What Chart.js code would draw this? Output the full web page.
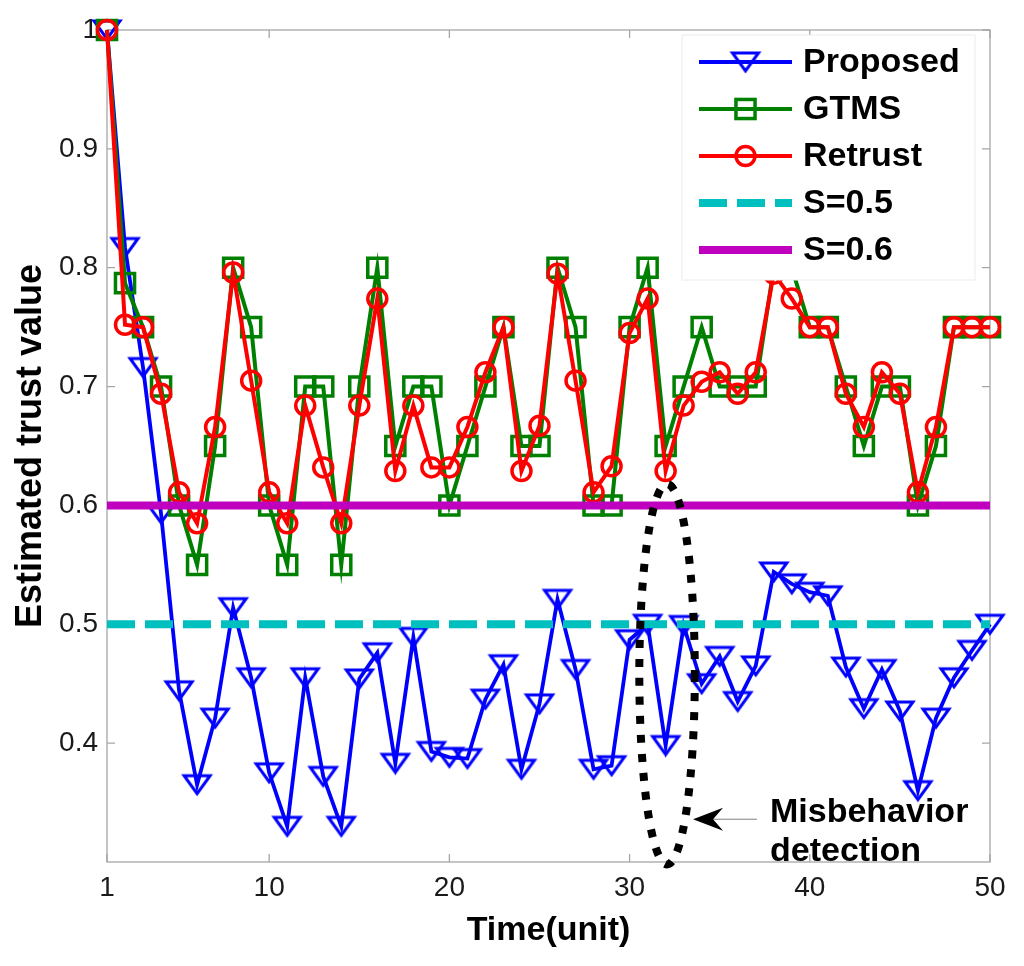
<!DOCTYPE html>
<html>
<head>
<meta charset="utf-8">
<title>Estimated trust value</title>
<script src="https://cdn.jsdelivr.net/npm/chart.js@4.4.1/dist/chart.umd.min.js"></script>
<style>
    html, body { margin: 0; padding: 0; background: #fff; }
    #wrap { width: 1024px; height: 966px; position: relative; }
</style>
</head>
<body>
<div id="wrap"><canvas id="trust-chart"></canvas></div>
<script>
// values
const timeUnits = [1, 2, 3, 4, 5, 6, 7, 8, 9, 10, 11, 12, 13, 14, 15, 16, 17, 18, 19, 20,
    21, 22, 23, 24, 25, 26, 27, 28, 29, 30, 31, 32, 33, 34, 35, 36, 37, 38, 39, 40,
    41, 42, 43, 44, 45, 46, 47, 48, 49, 50];

const proposed = [1.0, 0.817, 0.716, 0.593, 0.444, 0.365, 0.421, 0.514, 0.455, 0.375,
    0.33, 0.455, 0.372, 0.33, 0.454, 0.476, 0.383, 0.489, 0.393, 0.388,
    0.387, 0.437, 0.466, 0.378, 0.433, 0.521, 0.462, 0.378, 0.381, 0.487,
    0.5, 0.398, 0.499, 0.45, 0.473, 0.435, 0.465, 0.544, 0.534, 0.527,
    0.524, 0.464, 0.429, 0.462, 0.427, 0.36, 0.421, 0.455, 0.478, 0.5];

const gtms = [1.0, 0.787, 0.75, 0.7, 0.6, 0.55, 0.65, 0.8, 0.75, 0.6,
    0.55, 0.7, 0.7, 0.55, 0.7, 0.8, 0.65, 0.7, 0.7, 0.6,
    0.65, 0.7, 0.75, 0.65, 0.65, 0.8, 0.75, 0.6, 0.6, 0.75,
    0.8, 0.65, 0.7, 0.75, 0.7, 0.7, 0.7, 0.8, 0.8, 0.75,
    0.75, 0.7, 0.65, 0.7, 0.7, 0.6, 0.65, 0.75, 0.75, 0.75];

const retrust = [1.0, 0.752, 0.75, 0.694, 0.611, 0.585, 0.666, 0.796, 0.705, 0.611,
    0.585, 0.684, 0.632, 0.585, 0.684, 0.774, 0.629, 0.684, 0.632, 0.632,
    0.666, 0.712, 0.75, 0.629, 0.667, 0.795, 0.705, 0.611, 0.633, 0.745,
    0.774, 0.629, 0.684, 0.704, 0.712, 0.694, 0.712, 0.795, 0.774, 0.75,
    0.75, 0.694, 0.666, 0.712, 0.694, 0.611, 0.666, 0.75, 0.75, 0.75];

const thresholds = [0.5, 0.6];
const seriesLabels = ["Proposed", "GTMS", "Retrust", "S=0.5", "S=0.6"];
const xTickValues = [1, 10, 20, 30, 40, 50];
const yTickValues = [0.4, 0.5, 0.6, 0.7, 0.8, 0.9, 1];

const FONT = "'Liberation Sans', Arial, Helvetica, sans-serif";

function toPoints(values) {
    return values.map((v, i) => ({ x: timeUnits[i], y: v }));
}

function flatLine(level) {
    return [
        { x: timeUnits[0], y: level },
        { x: timeUnits[timeUnits.length - 1], y: level }
    ];
}

// MATLAB-like "v" marker, a bit wider than an equilateral triangle
function makeTriangleMarker(color) {
    const c = document.createElement("canvas");
    c.width = 36;
    c.height = 32;
    const g = c.getContext("2d");
    g.strokeStyle = color;
    g.lineWidth = 3;
    g.beginPath();
    g.moveTo(5, 7);
    g.lineTo(31, 7);
    g.lineTo(18, 25);
    g.closePath();
    g.stroke();
    return c;
}

const triangleMarker = makeTriangleMarker("#0000ff");

// box around the plot with inward ticks on all sides
const framePlugin = {
    id: "frame",
    beforeDatasetsDraw(chart) {
        const { ctx, chartArea: a, scales } = chart;
        ctx.save();
        ctx.strokeStyle = "#a6a6a6";
        ctx.lineWidth = 1.3;
        ctx.strokeRect(a.left, a.top, a.right - a.left, a.bottom - a.top);
        ctx.beginPath();
        xTickValues.forEach(v => {
            const px = scales.x.getPixelForValue(v);
            ctx.moveTo(px, a.bottom);
            ctx.lineTo(px, a.bottom - 8);
            ctx.moveTo(px, a.top);
            ctx.lineTo(px, a.top + 8);
        });
        yTickValues.forEach(v => {
            const py = scales.y.getPixelForValue(v);
            ctx.moveTo(a.left, py);
            ctx.lineTo(a.left + 8, py);
            ctx.moveTo(a.right, py);
            ctx.lineTo(a.right - 8, py);
        });
        ctx.stroke();
        ctx.restore();
    }
};

// legend box in the upper right corner of the axes
const legendPlugin = {
    id: "boxLegend",
    afterDraw(chart) {
        const ctx = chart.ctx;
        const a = chart.chartArea;
        const box = { left: a.right - 308, top: a.top + 5, width: 293, height: 245 };
        ctx.save();
        ctx.fillStyle = "#ffffff";
        ctx.strokeStyle = "#ececec";
        ctx.lineWidth = 1;
        ctx.fillRect(box.left, box.top, box.width, box.height);
        ctx.strokeRect(box.left, box.top, box.width, box.height);

        chart.data.datasets.forEach((ds, i) => {
            const y = box.top + 27 + i * 47;
            const x0 = box.left + 17;
            const x1 = box.left + 110;
            const xm = (x0 + x1) / 2;
            ctx.strokeStyle = ds.borderColor;
            ctx.lineWidth = ds.borderWidth;
            ctx.setLineDash(ds.borderDash || []);
            ctx.beginPath();
            ctx.moveTo(x0, y);
            ctx.lineTo(x1, y);
            ctx.stroke();
            ctx.setLineDash([]);
            ctx.lineWidth = ds.pointBorderWidth || 3;
            if (ds.pointStyle === "rect") {
                const s = ds.pointRadius * Math.SQRT1_2;
                ctx.strokeRect(xm - s, y - s, 2 * s, 2 * s);
            } else if (ds.pointStyle === "circle") {
                ctx.beginPath();
                ctx.arc(xm, y, ds.pointRadius, 0, Math.PI * 2);
                ctx.stroke();
            } else if (ds.pointStyle instanceof HTMLCanvasElement) {
                const img = ds.pointStyle;
                ctx.drawImage(img, xm - img.width / 2, y - img.height / 2);
            }
            ctx.fillStyle = "#000000";
            ctx.font = "bold 34px " + FONT;
            ctx.textBaseline = "middle";
            ctx.textAlign = "left";
            ctx.fillText(ds.label, box.left + 121, y + 1);
        });
        ctx.restore();
    }
};

// dotted ellipse, arrow and note
const notePlugin = {
    id: "misbehaviorNote",
    afterDraw(chart) {
        const { ctx, scales } = chart;
        const sx = scales.x, sy = scales.y;
        const cx = sx.getPixelForValue(32.08);
        const cy = sy.getPixelForValue(0.458);
        const rx = sx.getPixelForValue(32.08 + 1.54) - cx;
        const ry = cy - sy.getPixelForValue(0.458 + 0.16);
        ctx.save();
        ctx.strokeStyle = "#000000";
        ctx.lineWidth = 8;
        ctx.setLineDash([8, 11]);
        ctx.beginPath();
        ctx.ellipse(cx, cy, rx, ry, 0, 0, Math.PI * 2);
        ctx.stroke();
        ctx.setLineDash([]);

        const tipX = sx.getPixelForValue(33.52);
        const tailX = sx.getPixelForValue(37.07);
        const ay = sy.getPixelForValue(0.336);
        ctx.strokeStyle = "#808080";
        ctx.lineWidth = 1;
        ctx.beginPath();
        ctx.moveTo(tipX + 20, ay);
        ctx.lineTo(tailX, ay);
        ctx.stroke();
        ctx.fillStyle = "#000000";
        ctx.beginPath();
        ctx.moveTo(tipX, ay);
        ctx.lineTo(tipX + 30, ay - 11.5);
        ctx.lineTo(tipX + 20, ay);
        ctx.lineTo(tipX + 30, ay + 11.5);
        ctx.closePath();
        ctx.fill();

        const tx = sx.getPixelForValue(37.79);
        ctx.font = "bold 34px " + FONT;
        ctx.textAlign = "left";
        ctx.textBaseline = "alphabetic";
        ctx.fillText("Misbehavior", tx, sy.getPixelForValue(0.334));
        ctx.fillText("detection", tx, sy.getPixelForValue(0.3006));
        ctx.restore();
    }
};

Chart.defaults.font.family = FONT;

const ctx = document.getElementById("trust-chart").getContext("2d");
new Chart(ctx, {
    type: "line",
    data: {
        datasets: [
            {
                label: seriesLabels[0],
                data: toPoints(proposed),
                borderColor: "#0000ff",
                borderWidth: 3.8,
                pointStyle: triangleMarker,
                pointRadius: 13,
                pointBorderColor: "#0000ff",
                pointBackgroundColor: "rgba(0,0,0,0)",
                pointBorderWidth: 3,
                clip: false,
                order: 5
            },
            {
                label: seriesLabels[1],
                data: toPoints(gtms),
                borderColor: "#008000",
                borderWidth: 4,
                pointStyle: "rect",
                pointRadius: 13.5,
                pointBorderColor: "#008000",
                pointBackgroundColor: "rgba(0,0,0,0)",
                pointBorderWidth: 3.5,
                clip: false,
                order: 4
            },
            {
                label: seriesLabels[2],
                data: toPoints(retrust),
                borderColor: "#ff0000",
                borderWidth: 4,
                pointStyle: "circle",
                pointRadius: 9.5,
                pointBorderColor: "#ff0000",
                pointBackgroundColor: "rgba(0,0,0,0)",
                pointBorderWidth: 3.5,
                clip: false,
                order: 3
            },
            {
                label: seriesLabels[3],
                data: flatLine(thresholds[0]),
                borderColor: "#00bfbf",
                borderWidth: 8,
                borderDash: [28, 10],
                borderCapStyle: "butt",
                pointRadius: 0,
                order: 2
            },
            {
                label: seriesLabels[4],
                data: flatLine(thresholds[1]),
                borderColor: "#bf00bf",
                borderWidth: 8,
                pointRadius: 0,
                order: 1
            }
        ]
    },
    options: {
        responsive: true,
        maintainAspectRatio: false,
        animation: false,
        layout: { padding: { left: 0, right: 34, top: 30, bottom: 0 } },
        plugins: {
            legend: { display: false },
            tooltip: { enabled: false }
        },
        elements: { line: { tension: 0, borderJoinStyle: "miter" } },
        scales: {
            x: {
                type: "linear",
                min: 1,
                max: 50,
                afterBuildTicks: scale => {
                    scale.ticks = xTickValues.map(v => ({ value: v }));
                },
                afterFit: scale => { scale.height = 104; },
                grid: { display: false, drawTicks: false },
                border: { display: false },
                ticks: {
                    padding: 9,
                    maxRotation: 0,
                    autoSkip: false,
                    color: "#1a1a1a",
                    font: { size: 28 }
                },
                title: {
                    display: true,
                    text: "Time(unit)",
                    color: "#000000",
                    font: { size: 34, weight: "bold" },
                    padding: { top: 0, bottom: 15 }
                }
            },
            y: {
                type: "linear",
                min: 0.3,
                max: 1,
                afterBuildTicks: scale => {
                    scale.ticks = yTickValues.map(v => ({ value: v }));
                },
                afterFit: scale => { scale.width = 107; },
                grid: { display: false, drawTicks: false },
                border: { display: false },
                ticks: {
                    padding: 9,
                    color: "#1a1a1a",
                    font: { size: 28 },
                    callback: v => (v === 1 ? "1" : v.toFixed(1))
                },
                title: {
                    display: true,
                    text: "Estimated trust value",
                    color: "#000000",
                    font: { size: 36, weight: "bold" },
                    padding: { top: 9, bottom: 0 }
                }
            }
        }
    },
    plugins: [framePlugin, legendPlugin, notePlugin]
});
</script>
</body>
</html>
